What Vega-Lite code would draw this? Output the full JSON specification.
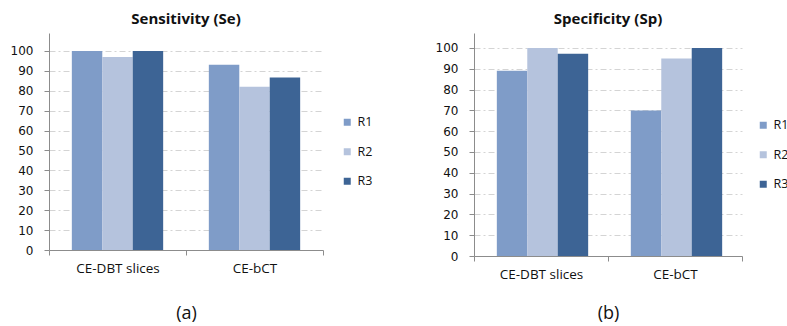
{
  "$schema": "https://vega.github.io/schema/vega-lite/v6.json",
  "padding": {"left": 10, "top": 12, "right": 0, "bottom": 0},
  "spacing": 62,
  "background": "white",
  "datasets": {
    "se": [
      {"method": "CE-DBT slices", "reader": "R1", "value": 100},
      {"method": "CE-DBT slices", "reader": "R2", "value": 97},
      {"method": "CE-DBT slices", "reader": "R3", "value": 100},
      {"method": "CE-bCT", "reader": "R1", "value": 93},
      {"method": "CE-bCT", "reader": "R2", "value": 82},
      {"method": "CE-bCT", "reader": "R3", "value": 86.7}
    ],
    "sp": [
      {"method": "CE-DBT slices", "reader": "R1", "value": 89},
      {"method": "CE-DBT slices", "reader": "R2", "value": 100},
      {"method": "CE-DBT slices", "reader": "R3", "value": 97.2},
      {"method": "CE-bCT", "reader": "R1", "value": 70},
      {"method": "CE-bCT", "reader": "R2", "value": 95},
      {"method": "CE-bCT", "reader": "R3", "value": 100}
    ]
  },
  "hconcat": [
    {
      "data": {"name": "se"},
      "width": 274,
      "height": 217,
      "title": {"text": "Sensitivity (Se)", "offset": 6},
      "mark": {"type": "bar"},
      "encoding": {
        "x": {
          "field": "method", "type": "nominal", "sort": ["CE-DBT slices", "CE-bCT"],
          "scale": {"paddingInner": 0, "paddingOuter": 0},
          "axis": {"title": "(a)", "titlePadding": 30}
        },
        "xOffset": {
          "field": "reader", "type": "nominal",
          "scale": {"paddingInner": 0, "paddingOuter": 0.75}
        },
        "y": {
          "field": "value", "type": "quantitative",
          "scale": {"domain": [0, 109], "nice": false},
          "axis": {"title": null, "values": [0, 10, 20, 30, 40, 50, 60, 70, 80, 90, 100]}
        },
        "color": {
          "field": "reader", "type": "nominal",
          "scale": {"domain": ["R1", "R2", "R3"], "range": ["#7F9CC8", "#B5C3DD", "#3D6495"]},
          "legend": {"title": null, "orient": "none", "legendX": 292, "legendY": 83}
        }
      }
    },
    {
      "data": {"name": "sp"},
      "width": 268,
      "height": 223,
      "title": {"text": "Specificity (Sp)", "offset": 6},
      "mark": {"type": "bar"},
      "encoding": {
        "x": {
          "field": "method", "type": "nominal", "sort": ["CE-DBT slices", "CE-bCT"],
          "scale": {"paddingInner": 0, "paddingOuter": 0},
          "axis": {"title": "(b)", "titlePadding": 24}
        },
        "xOffset": {
          "field": "reader", "type": "nominal",
          "scale": {"paddingInner": 0, "paddingOuter": 0.75}
        },
        "y": {
          "field": "value", "type": "quantitative",
          "scale": {"domain": [0, 107.2], "nice": false},
          "axis": {"title": null, "values": [0, 10, 20, 30, 40, 50, 60, 70, 80, 90, 100]}
        },
        "color": {
          "field": "reader", "type": "nominal",
          "scale": {"domain": ["R1", "R2", "R3"], "range": ["#7F9CC8", "#B5C3DD", "#3D6495"]},
          "legend": {"title": null, "orient": "none", "legendX": 283, "legendY": 86}
        }
      }
    }
  ],
  "resolve": {"scale": {"color": "independent"}, "legend": {"color": "independent"}},
  "config": {
    "view": {"stroke": null},
    "title": {"font": "Open Sans", "fontSize": 15, "fontWeight": "bold", "color": "#111111", "anchor": "middle"},
    "axisX": {
      "tickBand": "extent", "labelAngle": 0, "domainColor": "#8C8C8C", "tickColor": "#8C8C8C",
      "tickSize": 5, "labelPadding": 6, "labelFont": "Open Sans", "labelFontSize": 13.5, "labelColor": "#111111",
      "titleFont": "Open Sans", "titleFontSize": 18, "titleFontWeight": "normal", "titleColor": "#111111",
      "grid": false
    },
    "axisY": {
      "domainColor": "#8C8C8C", "tickColor": "#8C8C8C", "tickSize": 5, "labelPadding": 11,
      "labelFont": "DejaVu Sans", "labelFontSize": 12, "labelColor": "#111111",
      "grid": true, "gridColor": "#D4D4D4", "gridDash": [6, 3, 2, 3], "gridWidth": 1
    },
    "legend": {
      "symbolType": "square", "symbolSize": 49, "symbolStrokeWidth": 0,
      "labelFont": "Open Sans", "labelFontSize": 12.5, "labelColor": "#111111",
      "rowPadding": 16.5, "labelOffset": 4
    }
  }
}
